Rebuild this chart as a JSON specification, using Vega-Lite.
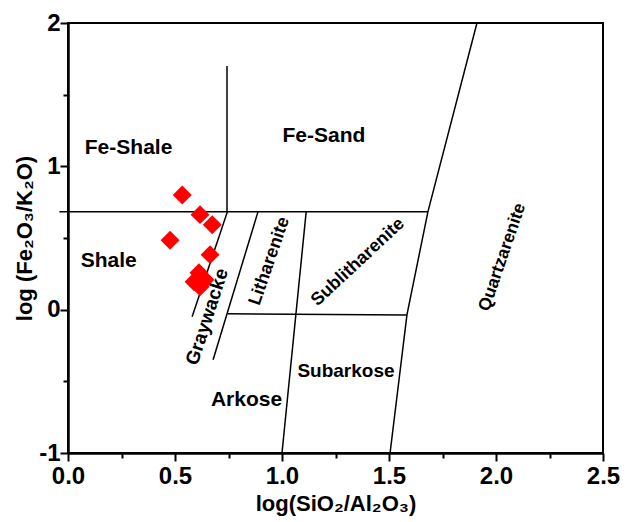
{
  "$schema": "https://vega.github.io/schema/vega-lite/v6.json",
  "autosize": "none",
  "padding": {"left": 68, "top": 23, "right": 27, "bottom": 69},
  "width": 535,
  "height": 430,
  "background": "white",
  "config": {
    "view": {"stroke": "black", "strokeWidth": 2},
    "font": "Liberation Sans",
    "axis": {
      "grid": false,
      "domainColor": "black",
      "domainWidth": 2.5,
      "tickColor": "black",
      "tickWidth": 2,
      "labelColor": "black",
      "labelFont": "Liberation Sans",
      "labelFontSize": 24,
      "labelFontWeight": "bold",
      "labelOverlap": false,
      "labelFlush": false,
      "titleColor": "black",
      "titleFont": "Liberation Sans",
      "titleFontSize": 22,
      "titleFontWeight": "bold"
    }
  },
  "datasets": {
    "points": [
      {"x": 0.534, "y": 0.80},
      {"x": 0.617, "y": 0.663},
      {"x": 0.674, "y": 0.593},
      {"x": 0.477, "y": 0.484},
      {"x": 0.664, "y": 0.384},
      {"x": 0.612, "y": 0.258},
      {"x": 0.589, "y": 0.195},
      {"x": 0.640, "y": 0.209},
      {"x": 0.617, "y": 0.160}
    ],
    "lines": [
      {"seg": "a", "o": 1, "x": -0.04, "y": 0.684},
      {"seg": "a", "o": 2, "x": 1.682, "y": 0.684},
      {"seg": "b", "o": 1, "x": 0.743, "y": 0.684},
      {"seg": "b", "o": 2, "x": 0.743, "y": 1.70},
      {"seg": "c", "o": 1, "x": 1.911, "y": 2.0},
      {"seg": "c", "o": 2, "x": 1.682, "y": 0.684},
      {"seg": "c", "o": 3, "x": 1.584, "y": -0.035},
      {"seg": "c", "o": 4, "x": 1.505, "y": -1.0},
      {"seg": "d", "o": 1, "x": 0.746, "y": -0.028},
      {"seg": "d", "o": 2, "x": 1.584, "y": -0.038},
      {"seg": "e", "o": 1, "x": 1.113, "y": 0.684},
      {"seg": "e", "o": 2, "x": 1.0, "y": -1.0},
      {"seg": "f", "o": 1, "x": 0.888, "y": 0.684},
      {"seg": "f", "o": 2, "x": 0.678, "y": -0.35},
      {"seg": "g", "o": 1, "x": 0.745, "y": 0.684},
      {"seg": "g", "o": 2, "x": 0.58, "y": -0.05}
    ],
    "labels": [
      {"label": "Fe-Shale", "x": 0.283, "y": 1.13},
      {"label": "Fe-Sand", "x": 1.196, "y": 1.211},
      {"label": "Shale", "x": 0.19, "y": 0.342},
      {"label": "Arkose", "x": 0.834, "y": -0.632},
      {"label": "Subarkose", "x": 1.299, "y": -0.426},
      {"label": "Graywacke", "x": 0.65, "y": -0.049},
      {"label": "Litharenite", "x": 0.942, "y": 0.338},
      {"label": "Sublitharenite", "x": 1.355, "y": 0.331},
      {"label": "Quartzarenite", "x": 2.03, "y": 0.366}
    ]
  },
  "encoding": {
    "x": {
      "field": "x",
      "type": "quantitative",
      "scale": {"domain": [0, 2.5], "nice": false, "zero": false},
      "axis": {
        "title": "log(SiO₂/Al₂O₃)",
        "values": [0, 0.25, 0.5, 0.75, 1, 1.25, 1.5, 1.75, 2, 2.25, 2.5],
        "labelExpr": "datum.value % 0.5 === 0 ? format(datum.value, '.1f') : ''",
        "tickSize": {"condition": {"test": "datum.value % 0.5 === 0", "value": 8}, "value": 5},
        "labelPadding": 3,
        "titlePadding": 5
      }
    },
    "y": {
      "field": "y",
      "type": "quantitative",
      "scale": {"domain": [-1, 2], "nice": false, "zero": false},
      "axis": {
        "title": "log (Fe₂O₃/K₂O)",
        "values": [-1, -0.5, 0, 0.5, 1, 1.5, 2],
        "labelExpr": "datum.value % 1 === 0 ? '' + datum.value : ''",
        "tickSize": {"condition": {"test": "datum.value % 1 === 0", "value": 8}, "value": 5},
        "labelPadding": 0,
        "titlePadding": 2
      }
    }
  },
  "layer": [
    {
      "data": {"name": "lines"},
      "mark": {"type": "line", "color": "black", "strokeWidth": 1.5},
      "encoding": {
        "detail": {"field": "seg"},
        "order": {"field": "o", "type": "quantitative"}
      }
    },
    {
      "data": {"name": "points"},
      "mark": {"type": "point", "shape": "diamond", "filled": true, "color": "#ff0000", "opacity": 1, "size": 360}
    },
    {
      "data": {"name": "labels"},
      "transform": [{"filter": "indexof(['Fe-Shale','Fe-Sand','Shale','Arkose'], datum.label) >= 0"}],
      "mark": {"type": "text", "font": "Liberation Sans", "fontWeight": "bold", "fontSize": 21, "color": "black", "align": "center", "baseline": "middle"},
      "encoding": {"text": {"field": "label"}}
    },
    {
      "data": {"name": "labels"},
      "transform": [{"filter": "datum.label === 'Subarkose'"}],
      "mark": {"type": "text", "font": "Liberation Sans", "fontWeight": "bold", "fontSize": 19, "color": "black", "align": "center", "baseline": "middle"},
      "encoding": {"text": {"field": "label"}}
    },
    {
      "data": {"name": "labels"},
      "transform": [{"filter": "datum.label === 'Graywacke'"}],
      "mark": {"type": "text", "font": "Liberation Sans", "fontWeight": "bold", "fontSize": 19, "angle": -72, "color": "black", "align": "center", "baseline": "middle"},
      "encoding": {"text": {"field": "label"}}
    },
    {
      "data": {"name": "labels"},
      "transform": [{"filter": "datum.label === 'Litharenite'"}],
      "mark": {"type": "text", "font": "Liberation Sans", "fontWeight": "bold", "fontSize": 18, "angle": -71, "color": "black", "align": "center", "baseline": "middle"},
      "encoding": {"text": {"field": "label"}}
    },
    {
      "data": {"name": "labels"},
      "transform": [{"filter": "datum.label === 'Sublitharenite'"}],
      "mark": {"type": "text", "font": "Liberation Sans", "fontWeight": "bold", "fontSize": 18, "angle": -43, "color": "black", "align": "center", "baseline": "middle"},
      "encoding": {"text": {"field": "label"}}
    },
    {
      "data": {"name": "labels"},
      "transform": [{"filter": "datum.label === 'Quartzarenite'"}],
      "mark": {"type": "text", "font": "Liberation Sans", "fontWeight": "bold", "fontSize": 17.5, "angle": -71, "color": "black", "align": "center", "baseline": "middle"},
      "encoding": {"text": {"field": "label"}}
    }
  ]
}
